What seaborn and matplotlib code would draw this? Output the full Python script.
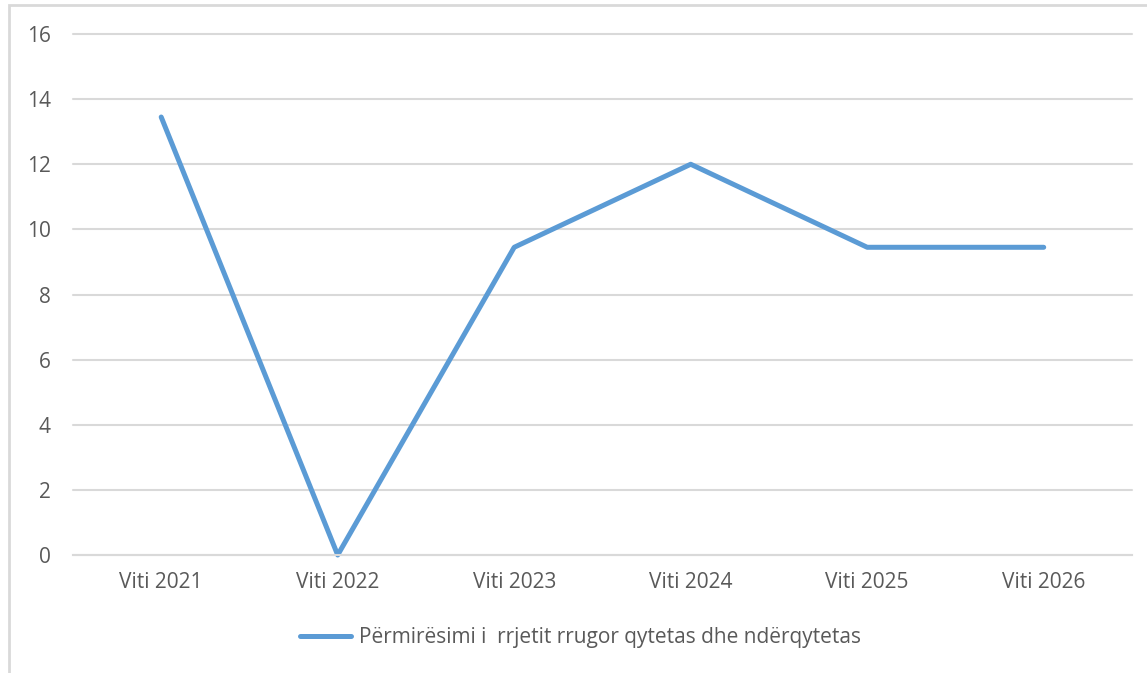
import pandas as pd
import seaborn as sns
import matplotlib.pyplot as plt
from matplotlib.patches import Rectangle

# --- data ---
years = ["Viti 2021", "Viti 2022", "Viti 2023", "Viti 2024", "Viti 2025", "Viti 2026"]
values = [13.45, 0, 9.45, 12, 9.45, 9.45]
series_name = "Përmirësimi i  rrjetit rrugor qytetas dhe ndërqytetas"

df = pd.DataFrame({"Viti": years, "Vlera": values})

sns.set_theme(style="white")
plt.rcParams["font.family"] = ["Open Sans", "DejaVu Sans"]

text_col = "#595959"
grid_col = "#D9D9D9"
line_col = "#5B9BD5"

fig = plt.figure(figsize=(11.47, 6.73), dpi=100)
ax = fig.add_axes([0.0636, 0.1753, 0.9233, 0.7742])

sns.lineplot(data=df, x="Viti", y="Vlera", sort=False, color=line_col,
             linewidth=3.6, ax=ax, label=series_name)
for ln in ax.get_lines():
    ln.set_clip_on(False)

ax.set_xlim(-0.5, len(years) - 0.5)
ax.set_ylim(0, 16)
ax.set_yticks(range(0, 17, 2))
ax.yaxis.grid(True, color=grid_col, linewidth=1.5)
for gl in ax.get_ygridlines():
    gl.set_clip_on(False)
ax.set_axisbelow(True)
for s in ax.spines.values():
    s.set_visible(False)
ax.spines["bottom"].set_visible(True)
ax.spines["bottom"].set_color(grid_col)
ax.spines["bottom"].set_linewidth(1.5)
ax.set_xlabel("")
ax.set_ylabel("")
ax.tick_params(axis="both", length=0, labelsize=15, labelcolor=text_col)
ax.tick_params(axis="x", pad=12)
ax.tick_params(axis="y", pad=16)

leg = ax.legend(loc="center", bbox_to_anchor=(0.479, -0.158), frameon=False,
                fontsize=15, handlelength=2.45, handletextpad=0.38)
for t in leg.get_texts():
    t.set_color(text_col)

# outer chart frame (cropped at right/bottom in the reference)
fig.patches.append(Rectangle((9 / 1147, -0.05), 1.2, (673 - 5) / 673 + 0.05,
                             transform=fig.transFigure, fill=False,
                             edgecolor=grid_col, linewidth=2))

fig.savefig("out.png", dpi=100)
